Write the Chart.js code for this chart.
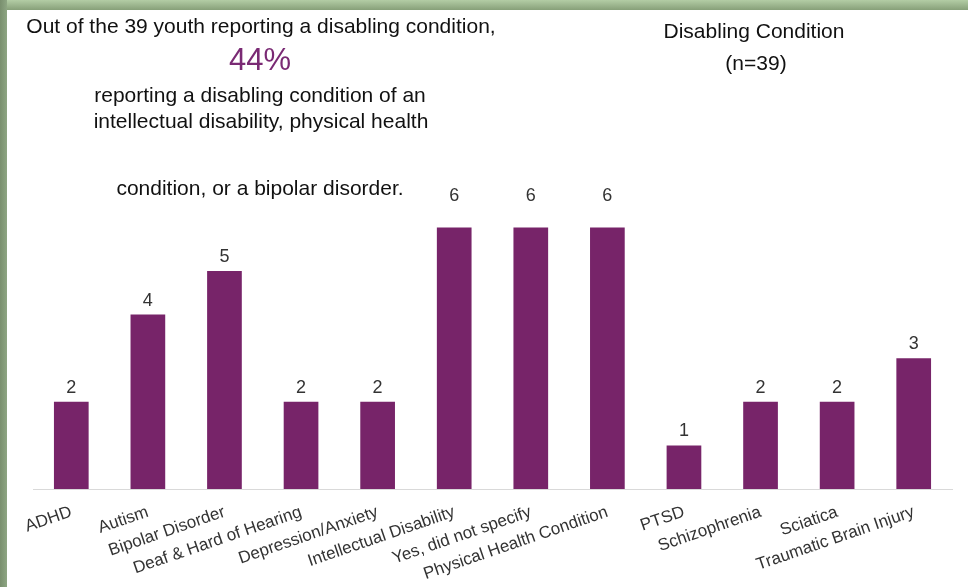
<!DOCTYPE html>
<html>
<head>
<meta charset="utf-8">
<script src="https://cdn.jsdelivr.net/npm/chart.js@4/dist/chart.umd.min.js"></script>
<style>
html,body{margin:0;padding:0;width:968px;height:587px;background:#fff;overflow:hidden;font-family:"Liberation Sans",Arial,sans-serif;}
#wrap{position:relative;width:968px;height:587px;background:#fff;}
#c{position:absolute;left:0;top:0;}
.bandTop{position:absolute;left:0;top:0;width:968px;height:10px;background:linear-gradient(#b3cda5,#87a079);z-index:2;}
.bandLeft{position:absolute;left:0;top:0;width:7px;height:587px;background:linear-gradient(to right,#798f6e,#8ea683);z-index:2;}
.t{position:absolute;white-space:nowrap;transform:translateX(-50%);color:#111;font-size:21px;line-height:21px;z-index:3;}
.big{font-size:31px;line-height:31px;color:#7a2a74;}
</style>
</head>
<body>
<div id="wrap">
  <canvas id="c" width="968" height="587"></canvas>
  <div class="bandTop"></div>
  <div class="bandLeft"></div>
  <div class="t" style="left:261px;top:15px;">Out of the 39 youth reporting a disabling condition,</div>
  <div class="t big" style="left:260px;top:44px;">44%</div>
  <div class="t" style="left:260px;top:84px;">reporting a disabling condition of an</div>
  <div class="t" style="left:261px;top:110px;">intellectual disability, physical health</div>
  <div class="t" style="left:260px;top:177px;">condition, or a bipolar disorder.</div>
  <div class="t" style="left:754px;top:20px;">Disabling Condition</div>
  <div class="t" style="left:756px;top:52px;">(n=39)</div>
</div>
<script>
const categories = ["ADHD","Autism","Bipolar Disorder","Deaf & Hard of Hearing","Depression/Anxiety","Intellectual Disability","Yes, did not specify","Physical Health Condition","PTSD","Schizophrenia","Sciatica","Traumatic Brain Injury"];
const counts = [2,4,5,2,2,6,6,6,1,2,2,3];
const yMin = 0;
const yMax = 10;

const FONT = '"Liberation Sans", Arial, sans-serif';

const valueLabels = {
  id: 'valueLabels',
  afterDatasetsDraw(chart) {
    const ctx = chart.ctx;
    const meta = chart.getDatasetMeta(0);
    const data = chart.data.datasets[0].data;
    const maxV = Math.max(...data);
    ctx.save();
    ctx.font = '18px ' + FONT;
    ctx.fillStyle = '#333';
    ctx.textAlign = 'center';
    ctx.textBaseline = 'alphabetic';
    meta.data.forEach((bar, i) => {
      const v = data[i];
      const off = v === maxV ? 26 : 9;
      ctx.fillText(String(v), bar.x, bar.y - off);
    });
    ctx.restore();
  }
};

new Chart(document.getElementById('c'), {
  type: 'bar',
  data: {
    labels: categories,
    datasets: [{
      data: counts,
      backgroundColor: '#772469',
      borderWidth: 0,
      barPercentage: 0.453,
      categoryPercentage: 1.0
    }]
  },
  options: {
    responsive: false,
    animation: false,
    devicePixelRatio: 1,
    layout: { padding: { left: 33, right: 16, top: 53, bottom: 0 } },
    plugins: { legend: { display: false }, tooltip: { enabled: false }, title: { display: false } },
    scales: {
      x: {
        grid: { display: false, drawTicks: false },
        border: { display: true, color: '#d9d9d9', width: 1 },
        ticks: {
          autoSkip: false,
          minRotation: 19,
          maxRotation: 19,
          color: '#333',
          padding: 13,
          font: { size: 17, family: FONT }
        },
        afterFit(scale) { scale.height = 98; }
      },
      y: {
        display: false,
        min: yMin,
        max: yMax
      }
    }
  },
  plugins: [valueLabels]
});
</script>
</body>
</html>
